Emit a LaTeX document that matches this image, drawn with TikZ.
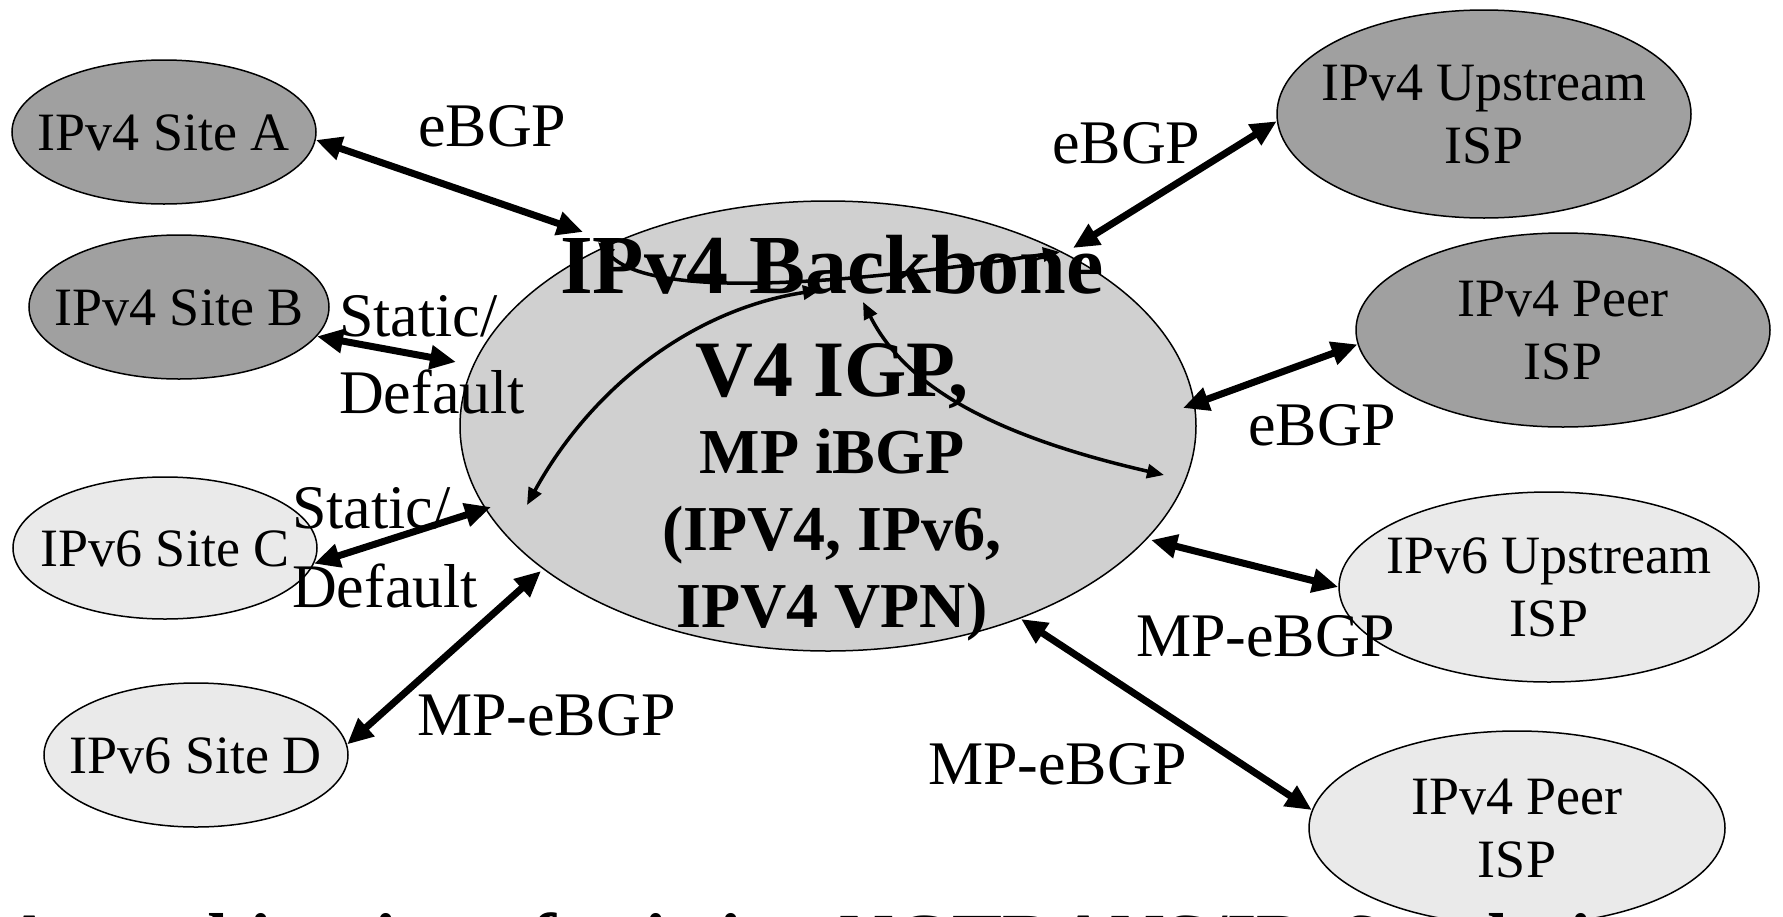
\documentclass[tikz,border=0pt]{standalone}
\usepackage{fontspec}
\setmainfont{Liberation Serif}
\usetikzlibrary{arrows.meta,shapes.geometric}
\definecolor{darkfill}{RGB}{160,160,160}
\definecolor{midfill}{RGB}{208,208,208}
\definecolor{lightfill}{RGB}{234,234,234}
\begin{document}
\begin{tikzpicture}[x=1pt,y=-1pt,
  oval/.style={ellipse, draw=black, line width=1.5pt, inner sep=0pt, align=center,
    font=\fontsize{54}{63}\selectfont},
  site/.style={oval, text height=37pt, text depth=0pt},
  lbl/.style={anchor=base west, inner sep=0pt, font=\fontsize{62}{74}\selectfont},
  bigarrow/.style={line width=7pt, {Triangle[length=26pt,width=23pt]}-{Triangle[length=26pt,width=23pt]}},
  smallarrow/.style={line width=3.5pt, {Triangle[length=17pt,width=14pt]}-{Triangle[length=17pt,width=14pt]}}
]
\useasboundingbox (0,0) rectangle (1783,916);
\clip (0,0) rectangle (1783,916);
\fill[white] (0,0) rectangle (1783,916);

% ellipses
\node[oval, fill=midfill, minimum width=736pt, minimum height=450pt] (bb) at (828,426) {};
\node[site, fill=darkfill, minimum width=304pt, minimum height=144pt] (siteA) at (164,132) {\makebox[0pt]{IPv4 Site A}};
\node[site, fill=darkfill, minimum width=300pt, minimum height=144pt] (siteB) at (179,307) {\makebox[0pt]{IPv4 Site B}};
\node[site, fill=lightfill, minimum width=304pt, minimum height=142pt] (siteC) at (165,548) {\makebox[0pt]{IPv6 Site C}};
\node[site, fill=lightfill, minimum width=304pt, minimum height=144pt] (siteD) at (196,755) {\makebox[0pt]{IPv6 Site D}};
\node[oval, fill=darkfill, minimum width=414pt, minimum height=208pt] (up4) at (1484,114) {\makebox[0pt]{IPv4 Upstream}\\\makebox[0pt]{ISP}};
\node[oval, fill=darkfill, minimum width=414pt, minimum height=194pt] (peer4) at (1563,330) {\makebox[0pt]{IPv4 Peer}\\\makebox[0pt]{ISP}};
\node[oval, fill=lightfill, minimum width=420pt, minimum height=190pt] (up6) at (1549,587) {\makebox[0pt]{IPv6 Upstream}\\\makebox[0pt]{ISP}};
\node[oval, fill=lightfill, minimum width=416pt, minimum height=194pt] (peer4b) at (1517,828) {\makebox[0pt]{IPv4 Peer}\\\makebox[0pt]{ISP}};

% backbone text
\node[anchor=north, inner sep=0pt, align=center, font=\bfseries\fontsize{64}{77}\selectfont] (bbtext) at (832,235)
  {{\fontsize{84}{84}\selectfont IPv4 Backbone}\\[26pt]{\fontsize{80}{80}\selectfont V4 IGP,}\\MP iBGP\\(IPV4, IPv6,\\IPV4 VPN)};

% edge labels
\node[lbl] (lA) at (418,146) {eBGP};
\node[lbl] (lB1) at (339,336) {Static/};
\node[lbl] (lB2) at (339,413) {Default};
\node[lbl] (lC1) at (292,528) {Static/};
\node[lbl] (lC2) at (292,607) {Default};
\node[lbl] (lD) at (417,735) {MP-eBGP};
\node[lbl] (lU4) at (1052,163) {eBGP};
\node[lbl] (lP4) at (1248,445) {eBGP};
\node[lbl] (lU6) at (1136,656) {MP-eBGP};
\node[lbl] (lP4b) at (928,784) {MP-eBGP};

% arrow ends on the backbone
\coordinate (bA) at (583,232);
\coordinate (bB) at (456,362);
\coordinate (bC) at (491,507);
\coordinate (bD) at (541,571);
\coordinate (bU4) at (1073,248);
\coordinate (bP4) at (1183,408);
\coordinate (bU6) at (1151,540);
\coordinate (bP4b) at (1021,619);

\draw[bigarrow] (siteA.-3) -- (bA);
\draw[bigarrow] (siteB.-12) -- (bB);
\draw[bigarrow] (siteC.-6) -- (bC);
\draw[bigarrow] (siteD.4) -- (bD);
\draw[bigarrow] (up4.182) -- (bU4);
\draw[bigarrow] (peer4.184) -- (bP4);
\draw[bigarrow] (up6.west) -- (bU6);
\draw[bigarrow] (peer4b.175) -- (bP4b);

% inner iBGP curves
\coordinate (cT1) at (598,242);
\coordinate (cT2) at (1060,252);
\coordinate (cL1) at (527,505);
\coordinate (cL2) at (820,290);
\coordinate (cR1) at (863,302);
\coordinate (cR2) at (1164,475);
\draw[smallarrow] (cT1) .. controls (650,300) and (840,285) .. (cT2);
\draw[smallarrow] (cL1) .. controls (590,390) and (690,310) .. (cL2);
\draw[smallarrow] (cR1) .. controls (905,385) and (990,435) .. (cR2);

% bottom caption (cut off by the page edge)
\node[anchor=base west, inner sep=0pt, font=\bfseries\fontsize{75}{90}\selectfont] (caption) at (2,965)
  {A combination of existing NGTRANS/IPv6 techniques};
\end{tikzpicture}
\end{document}
